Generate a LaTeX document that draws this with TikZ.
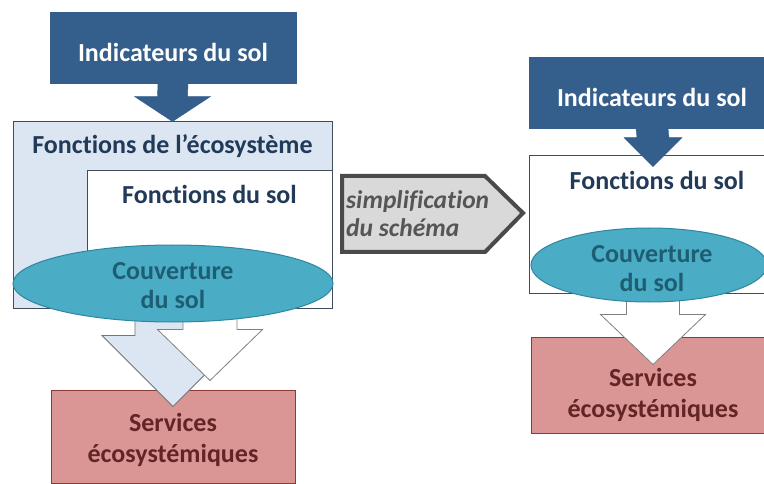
\documentclass[tikz,border=0pt]{standalone}
\usepackage{fontspec}
\setmainfont{Carlito}[Ligatures=NoCommon]
\usetikzlibrary{calc,positioning,shapes.geometric}

\definecolor{indblue}{HTML}{345E8C}
\definecolor{ecofill}{HTML}{DCE6F2}
\definecolor{ecoline}{HTML}{3E4C5E}
\definecolor{fonctext}{HTML}{213A58}
\definecolor{couvfill}{HTML}{4BACC6}
\definecolor{couvline}{HTML}{2E87A0}
\definecolor{couvtext}{HTML}{1E5E72}
\definecolor{servfill}{HTML}{D99694}
\definecolor{servline}{HTML}{8B3A38}
\definecolor{servtext}{HTML}{632523}
\definecolor{simpfill}{HTML}{D9D9D9}
\definecolor{simpline}{HTML}{4A4A4A}
\definecolor{simptext}{HTML}{565656}

\tikzset{
  bigfont/.style={font=\fontsize{26}{29}\selectfont\bfseries},
  indbox/.style={rectangle, inner sep=0pt, draw=indblue, fill=indblue,
    minimum width=246pt, minimum height=71pt},
  indtext/.style={text=white, bigfont, inner sep=0pt, yshift=-5pt},
  ecobox/.style={rectangle, inner sep=0pt, draw=ecoline, line width=1pt, fill=ecofill},
  soilbox/.style={rectangle, inner sep=0pt, draw=ecoline, line width=0.8pt, fill=white},
  fonclabel/.style={text=fonctext, bigfont, inner sep=0pt},
  couv/.style={ellipse, inner sep=0pt, draw=couvline, line width=1pt, fill=couvfill,
    text=couvtext, bigfont, align=center},
  servbox/.style={rectangle, inner sep=0pt, draw=servline, line width=1pt, fill=servfill},
  servtext/.style={text=servtext, font=\fontsize{26}{31}\selectfont\bfseries,
    align=center, inner sep=0pt},
  indarrow/.style={draw=indblue, fill=indblue},
  ecoarrow/.style={draw=gray!80!ecoline, line width=0.8pt, fill=ecofill},
  whitearrow/.style={draw=gray, line width=0.8pt, fill=white},
}

% block arrow: style, start, tip, half shaft, half head, head length
\newcommand{\fatarrow}[6]{%
  \draw[#1] ($(#2)+(-#4,0)$) -- ($(#3)+(-#4,-#6)$) -- ($(#3)+(-#5,-#6)$) -- (#3)
    -- ($(#3)+(#5,-#6)$) -- ($(#3)+(#4,-#6)$) -- ($(#2)+(#4,0)$) -- cycle;}

\begin{document}
\begin{tikzpicture}[x=1pt, y=-1pt]
  \path[use as bounding box, clip] (0,0) rectangle (764,484);
  \fill[white] (0,0) rectangle (764,484);

  % Left: full schema
  \node[indbox] (ind1) at (173,47.5) {};
  \node[indtext] (ind1lbl) at (ind1.center) {Indicateurs du sol};
  \node[ecobox, minimum width=319pt, minimum height=186pt] (eco) at (172.5,215) {};
  \node[fonclabel] (ecolbl) at ($(eco.north)+(0,25)$) {Fonctions de l’écosystème};
  \node[soilbox, minimum width=245pt, minimum height=138pt] (soil1) at (209.5,239) {};
  \node[fonclabel] (soil1lbl) at ($(soil1.north)+(0,25)$) {Fonctions du sol};
  \fatarrow{indarrow}{ind1.south}{eco.north}{15}{38}{25}

  \node[servbox, minimum width=244pt, minimum height=93pt] (serv1) at (173,436.5) {};
  \node[servtext] (serv1lbl) at ($(serv1.center)+(0,3)$) {Services\\écosystémiques};
  \coordinate (lbtop) at (173,300);
  \coordinate (lbtip) at ($(serv1.north)+(0,17)$);
  \coordinate (wtop) at (210,300);
  \coordinate (wtip) at ($(serv1.north)+(37,-9)$);
  \fatarrow{ecoarrow}{lbtop}{lbtip}{38}{71}{71}
  \fatarrow{whitearrow}{wtop}{wtip}{27}{52.5}{51}
  \node[couv, minimum width=320pt, minimum height=77pt] (couv1) at (173,283.5) {};
  \node[couv, draw=none, fill=none] (couv1lbl) at ($(couv1.center)+(0,2)$)
    {Couverture\\du sol};

  % Middle: simplification arrow
  \draw[simpline, line width=4pt, fill=simpfill, line join=miter]
    (342,176) -- (485,176) -- (523,213) -- (485,252) -- (342,252) -- cycle;
  \node[anchor=west, align=left, inner sep=0pt, text=simptext,
    font=\fontsize{25.5}{28}\selectfont\bfseries\itshape] (simp) at (346,214)
    {simplification\\du schéma};

  % Right: simplified schema
  \node[indbox] (ind2) at (652,92.5) {};
  \node[indtext] (ind2lbl) at (ind2.center) {Indicateurs du sol};
  \node[soilbox, minimum width=246pt, minimum height=138pt] (soil2) at (652,224) {};
  \node[fonclabel] (soil2lbl) at ($(soil2.north)+(5,26)$) {Fonctions du sol};
  \fatarrow{indarrow}{ind2.south}{$(soil2.north)+(1,12)$}{16}{29}{29}

  \node[servbox, minimum width=244pt, minimum height=96pt] (serv2) at (653,385) {};
  \node[servtext] (serv2lbl) at ($(serv2.center)+(0,10)$) {Services\\écosystémiques};
  \coordinate (w2top) at (653,290);
  \coordinate (w2tip) at ($(serv2.north)+(0,28)$);
  \fatarrow{whitearrow}{w2top}{w2tip}{26.5}{52.5}{50}
  \node[couv, minimum width=236pt, minimum height=74pt] (couv2) at (649,265) {};
  \node[couv, draw=none, fill=none] (couv2lbl) at ($(couv2.center)+(3,4)$)
    {Couverture\\du sol};
\end{tikzpicture}
\end{document}
